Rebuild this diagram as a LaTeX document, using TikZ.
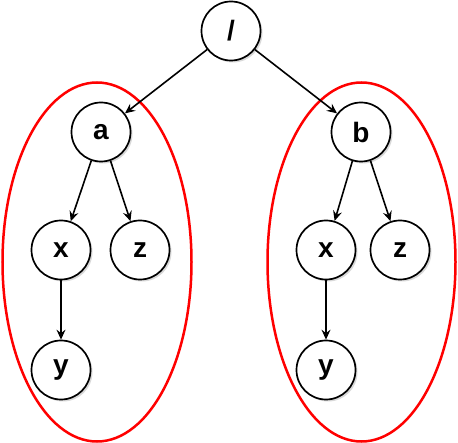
\documentclass[tikz,border=0pt]{standalone}
\usepackage{fontspec}
\setmainfont{Liberation Sans}
\usetikzlibrary{arrows.meta,shadows}
\begin{document}
\begin{tikzpicture}[x=1pt,y=-1pt,
  tnode/.style={circle,draw=black,line width=1.7pt,fill=white,minimum size=59pt,inner sep=0pt,
    font=\fontsize{28}{32}\selectfont\bfseries,
    drop shadow={shadow xshift=2pt,shadow yshift=-2pt,opacity=0.25,fill=black!60}},
  edge/.style={draw=black,line width=1.6pt,-{Stealth[length=10pt,width=9pt,inset=3.5pt]}},
  group/.style={draw=red,line width=2.5pt}]
\useasboundingbox (0,0) rectangle (458,443);
\draw[group] (97,262) ellipse [x radius=94.5, y radius=179.5];
\draw[group] (361.5,262) ellipse [x radius=94, y radius=179.5];
\node[tnode] (root) at (231,31) {/};
\node[tnode] (a) at (101,132) {a};
\node[tnode] (b) at (361,132) {b};
\node[tnode] (x1) at (61,250) {x};
\node[tnode] (z1) at (140,250) {z};
\node[tnode] (y1) at (61,370) {y};
\node[tnode] (x2) at (326,250) {x};
\node[tnode] (z2) at (400,250) {z};
\node[tnode] (y2) at (326,370) {y};
\draw[edge] (root) -- (a);
\draw[edge] (root) -- (b);
\draw[edge] (a) -- (x1);
\draw[edge] (a) -- (z1);
\draw[edge] (x1) -- (y1);
\draw[edge] (b) -- (x2);
\draw[edge] (b) -- (z2);
\draw[edge] (x2) -- (y2);
\end{tikzpicture}
\end{document}
